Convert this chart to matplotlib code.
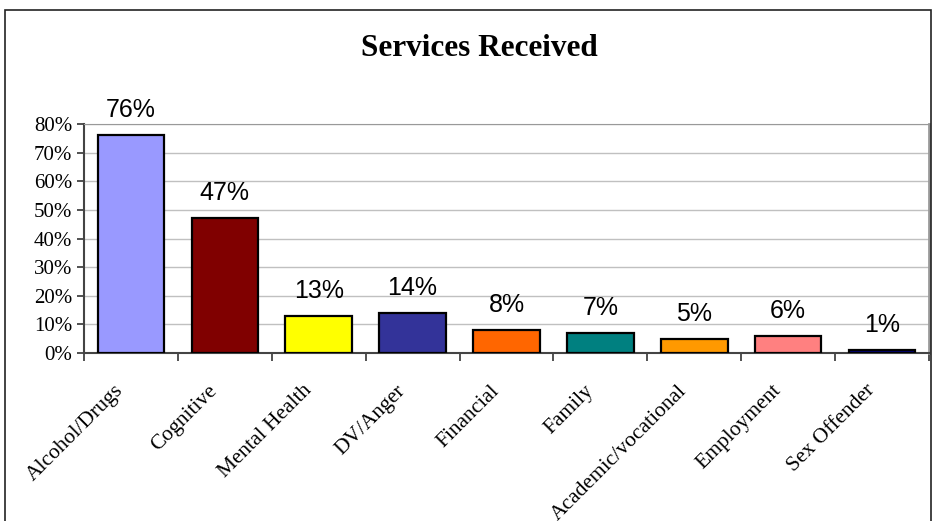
import matplotlib.pyplot as plt
from matplotlib.patches import Rectangle
from matplotlib.ticker import FuncFormatter

categories = ['Alcohol/Drugs', 'Cognitive', 'Mental Health', 'DV/Anger', 'Financial',
              'Family', 'Academic/vocational', 'Employment', 'Sex Offender']
values = [76, 47, 13, 14, 8, 7, 5, 6, 1]
colors = ['#9999FF', '#800000', '#FFFF00', '#333399', '#FF6600',
          '#008080', '#FF9900', '#FF8080', '#000080']

fig = plt.figure(figsize=(9.36, 5.21), dpi=100)
fig.patch.set_facecolor('white')

# outer chart border
fig.patches.append(Rectangle((5 / 936, -0.05), 926 / 936, 1.05 - 10 / 521,
                             transform=fig.transFigure, fill=False,
                             edgecolor='#222222', linewidth=1.2))

ax = fig.add_axes([84 / 936, 1 - 353 / 521, (929 - 84) / 936, (353 - 124) / 521])

x = list(range(len(categories)))
ax.bar(x, values, width=0.71, color=colors, edgecolor='black', linewidth=1.6, zorder=3)

for xi, v in zip(x, values):
    ax.annotate(f'{v}%', (xi, v), xytext=(0, 13), textcoords='offset points',
                ha='center', va='baseline', fontsize=18, family='Liberation Sans')

ax.set_xlim(-0.5, len(categories) - 0.5)
ax.set_ylim(0, 80)
ax.set_yticks(range(0, 81, 10))
ax.yaxis.set_major_formatter(FuncFormatter(lambda v, p: f'{int(v)}%'))
ax.grid(axis='y', color='#C0C0C0', linewidth=1, zorder=0)

# ticks sit between categories, labels drawn separately
ax.set_xticks([i - 0.5 for i in range(len(categories) + 1)])
ax.set_xticklabels([])
ax.tick_params(axis='x', length=6, width=1.2, color='#333333')
ax.tick_params(axis='y', length=5, width=1.2, color='#333333', labelsize=15)
for lab in ax.get_yticklabels():
    lab.set_family('Liberation Serif')

for xi, name in zip(x, categories):
    ax.annotate(name, (xi, 0), xycoords=ax.get_xaxis_transform(),
                xytext=(-10, -35), textcoords='offset pixels',
                rotation=45, ha='right', va='center', rotation_mode='anchor',
                fontsize=15.5, family='Liberation Serif', annotation_clip=False)

ax.spines['left'].set_color('#444444')
ax.spines['left'].set_linewidth(1.5)
ax.spines['bottom'].set_color('#444444')
ax.spines['bottom'].set_linewidth(1.5)
ax.spines['top'].set_color('#999999')
ax.spines['right'].set_color('#999999')
ax.spines['right'].set_linewidth(2)

fig.text(479 / 936, 1 - 56 / 521, 'Services Received', ha='center', va='baseline',
         fontsize=22.5, fontweight='bold', family='Liberation Serif')

fig.savefig('out.png', dpi=100, facecolor='white')
